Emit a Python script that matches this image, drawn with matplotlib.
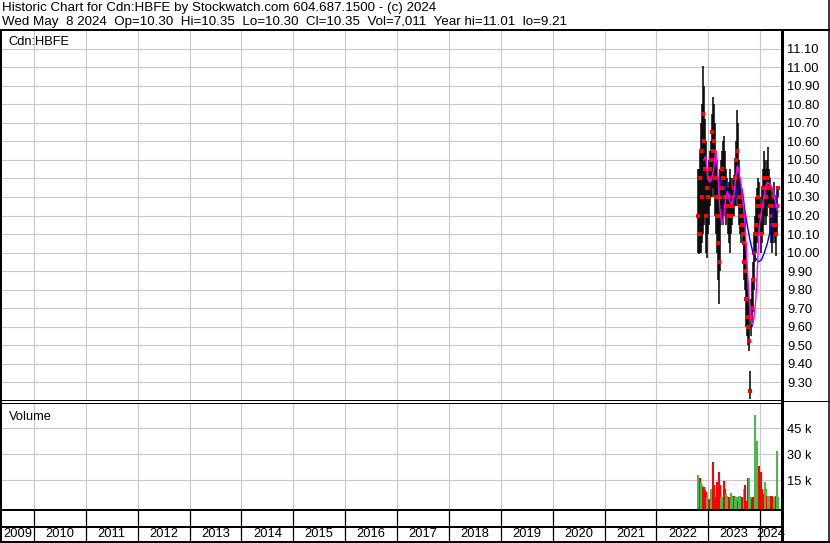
import matplotlib
matplotlib.use("Agg")
import matplotlib.pyplot as plt
from matplotlib.lines import Line2D
import pandas as pd
from datetime import datetime

plt.rcParams['font.family'] = ['Liberation Sans', 'DejaVu Sans']

W, H = 830, 543

# weekly data, Oct 2022 - May 2024
weeks = pd.date_range("2022-10-19", periods=82, freq="7D")

highs = [10.45, 10.45, 10.55, 10.70, 10.80, 11.01, 10.90, 10.72, 10.60, 10.45,
         10.40, 10.50, 10.55, 10.60, 10.75, 10.84, 10.80, 10.70, 10.55, 10.50,
         10.40, 10.30, 10.45, 10.50, 10.55, 10.60, 10.63, 10.55, 10.45, 10.40,
         10.35, 10.38, 10.45, 10.40, 10.35, 10.40, 10.42, 10.50, 10.60, 10.77,
         10.70, 10.50, 10.40, 10.35, 10.30, 10.25, 10.20, 10.25, 10.20, 10.05,
         9.90, 9.80, 9.75, 9.36, 9.75, 9.85, 9.95, 10.10, 10.20, 10.30,
         10.35, 10.40, 10.38, 10.30, 10.25, 10.35, 10.45, 10.55, 10.50, 10.45,
         10.50, 10.57, 10.45, 10.40, 10.35, 10.30, 10.35, 10.38, 10.30, 10.28,
         10.35, 10.35]
lows = [10.00, 9.99, 10.00, 10.00, 10.05, 10.10, 10.15, 10.20, 10.00, 9.97,
        10.10, 10.15, 10.25, 10.30, 10.30, 10.35, 10.30, 10.20, 10.10, 10.00,
        9.85, 9.72, 9.90, 10.15, 10.20, 10.15, 10.20, 10.20, 10.15, 10.20,
        10.10, 10.05, 10.00, 10.10, 10.15, 10.20, 10.20, 10.25, 10.25, 10.30,
        10.25, 10.15, 10.10, 10.05, 10.10, 10.05, 9.95, 9.85, 9.80, 9.60,
        9.55, 9.50, 9.47, 9.21, 9.55, 9.60, 9.68, 9.80, 9.95, 10.00,
        10.05, 10.10, 10.15, 10.10, 10.00, 10.05, 10.10, 10.15, 10.20, 10.15,
        10.20, 10.25, 10.25, 10.10, 10.05, 10.00, 10.05, 10.10, 10.05, 9.98,
        10.10, 10.30]
closes = [10.20, 10.10, 10.40, 10.55, 10.30, 10.75, 10.60, 10.45, 10.20, 10.35,
          10.30, 10.40, 10.45, 10.50, 10.65, 10.55, 10.60, 10.40, 10.30, 10.20,
          10.05, 9.95, 10.30, 10.35, 10.45, 10.40, 10.35, 10.30, 10.25, 10.30,
          10.20, 10.25, 10.30, 10.20, 10.25, 10.30, 10.35, 10.40, 10.50, 10.55,
          10.45, 10.30, 10.25, 10.20, 10.15, 10.10, 10.05, 9.95, 9.90, 9.75,
          9.65, 9.60, 9.52, 9.25, 9.65, 9.70, 9.85, 10.00, 10.10, 10.15,
          10.25, 10.30, 10.25, 10.20, 10.10, 10.25, 10.35, 10.40, 10.35, 10.30,
          10.40, 10.35, 10.35, 10.25, 10.20, 10.15, 10.25, 10.30, 10.15, 10.10,
          10.25, 10.35]
volume_k = [17.9, 15, 16, 14, 12, 11, 11, 9, 8.3, 5.4,
            4, 3.5, 4, 9.8, 6, 25.6, 12, 5, 4, 14,
            10, 19.8, 12, 5, 5, 4, 14.6, 10, 7, 6,
            5, 5, 4, 7.5, 6, 5, 6, 5, 4, 5,
            2.8, 6, 6, 5, 5, 4, 10, 9, 12, 3,
            3, 16, 16, 5, 5, 4, 5, 5, 52.5, 30,
            37.5, 22, 23, 18, 19.8, 10, 7, 6, 14, 10,
            6, 6, 6, 5, 6, 6, 5, 5, 5, 6,
            32, 5]
# g = up day, r = down day, x = unchanged
vol_dir = ("ggrggrrrrg" "grrggrrrrr" "rrrgggrrgg" "grrgggrggg" "rgggrrxgrr"
           "rrgggrrrgg" "ggrrrrrrgg" "rgggrrrggr" "gg")

# moving averages (week index, value)
ma_fast_wk = [6, 8, 10, 12, 14, 16, 18, 20, 22, 24, 26, 28, 30, 32, 34, 36, 38, 40,
              42, 44, 46, 48, 49, 50, 52, 54, 55, 56, 58, 59, 60, 62, 64, 66,
              68, 70, 72, 74, 76, 78, 80, 81]
ma_fast = [10.50, 10.52, 10.40, 10.38, 10.40, 10.45, 10.55, 10.45, 10.25, 10.15,
           10.18, 10.30, 10.33, 10.28, 10.26, 10.30, 10.40, 10.47, 10.42, 10.35,
           10.25, 10.10, 10.00, 9.90, 9.72, 9.62, 9.61, 9.63, 9.72, 9.81,
           9.92, 10.15, 10.22, 10.28, 10.35, 10.38, 10.37, 10.36, 10.33, 10.28,
           10.23, 10.22]
ma_slow_wk = [20, 23, 26, 29, 32, 35, 38, 41, 43, 45, 47, 49, 52, 55, 58, 61, 64,
              67, 70, 73, 76, 79, 81]
ma_slow = [10.40, 10.38, 10.37, 10.32, 10.30, 10.28, 10.30, 10.35, 10.37, 10.33,
           10.24, 10.17, 10.08, 10.01, 9.97, 9.95, 9.96, 10.00, 10.05, 10.12,
           10.23, 10.30, 10.32]

price_ticks = [9.3, 9.4, 9.5, 9.6, 9.7, 9.8, 9.9, 10.0, 10.1, 10.2, 10.3, 10.4,
               10.5, 10.6, 10.7, 10.8, 10.9, 11.0, 11.1]
vol_ticks = [15000, 30000, 45000]
vol_tick_labels = ["15 k", "30 k", "45 k"]
years = list(range(2009, 2025))

header1 = "Historic Chart for Cdn:HBFE by Stockwatch.com 604.687.1500 - (c) 2024"
header2 = ("Wed May  8 2024  Op=10.30  Hi=10.35  Lo=10.30  Cl=10.35  "
           "Vol=7,011  Year hi=11.01  lo=9.21")

x_start = datetime(2009, 5, 14)
x_end = datetime(2024, 5, 27)
grid_c = "#c8c8c8"
green = "#4cb84c"
fs = 9.3


def px_axes(fig, x0, y0, x1, y1):
    ax = fig.add_axes([x0 / W, 1 - y1 / H, (x1 - x0) / W, (y1 - y0) / H])
    ax.set_xlim(x_start, x_end)
    for s in ax.spines.values():
        s.set_visible(False)
    ax.tick_params(axis='x', which='both', length=0, labelbottom=False)
    return ax


def hline(fig, y, x0, x1, lw):
    fig.add_artist(Line2D([x0 / W, x1 / W], [1 - y / H, 1 - y / H],
                          transform=fig.transFigure, color="black", lw=lw * 0.72))


def vline(fig, x, y0, y1, lw):
    fig.add_artist(Line2D([x / W, x / W], [1 - y0 / H, 1 - y1 / H],
                          transform=fig.transFigure, color="black", lw=lw * 0.72))


fig = plt.figure(figsize=(W / 100, H / 100), dpi=100)
fig.patch.set_facecolor("white")

year_lines = [datetime(y, 1, 1) for y in years[1:]]

# price panel
ax = px_axes(fig, 1, 31, 781, 400)
ax.set_ylim(9.203, 11.197)
for d in year_lines:
    ax.axvline(d, color=grid_c, lw=0.8, zorder=0)
for p in price_ticks:
    ax.axhline(p, color=grid_c, lw=0.8, zorder=0)
ax.vlines(weeks, lows, highs, color="black", lw=1.1, zorder=2)
ax.plot(weeks, closes, "s", color="red", ms=2.2, mew=0, zorder=3)
ax.plot(weeks[ma_slow_wk], ma_slow, color="#0000ff", lw=1.0, zorder=4)
ax.plot(weeks[ma_fast_wk], ma_fast, color="#ff00ff", lw=1.0, zorder=4)
ax.yaxis.tick_right()
ax.set_yticks(price_ticks)
ax.set_yticklabels([f"{p:.2f}" for p in price_ticks], fontsize=fs)
ax.tick_params(axis='y', length=0, pad=4.5)
ax.text(0.01, 0.97, "Cdn:HBFE", transform=ax.transAxes, fontsize=fs,
        va="center", ha="left")

# volume panel
vol_floor = -1800
axv = px_axes(fig, 1, 403, 781, 509)
axv.set_ylim(vol_floor, 59700)
for d in year_lines:
    axv.axvline(d, color=grid_c, lw=0.8, zorder=0)
for v in vol_ticks:
    axv.axhline(v, color=grid_c, lw=0.8, zorder=0)
colors = {"g": green, "r": "#ff0000", "x": "#999999"}
vols = [v * 1000 - vol_floor for v in volume_k]
axv.bar(weeks, vols, bottom=vol_floor, width=14,
        color=[colors[c] for c in vol_dir], lw=0, zorder=2)
axv.yaxis.tick_right()
axv.set_yticks(vol_ticks)
axv.set_yticklabels(vol_tick_labels, fontsize=fs)
axv.tick_params(axis='y', length=0, pad=4.5)
axv.text(0.01, 0.87, "Volume", transform=axv.transAxes, fontsize=fs,
         va="center", ha="left")

# year boxes and labels
axb = px_axes(fig, 1, 509, 781, 541)
axb.set_ylim(0, 1)
axb.set_yticks([])
for d in year_lines:
    axb.axvline(d, color="black", lw=0.9)
bounds = [x_start] + year_lines + [x_end]
for y, a, b in zip(years, bounds[:-1], bounds[1:]):
    axb.text(a + (b - a) / 2, 0.22, str(y), fontsize=fs, ha="center", va="center")

# frame lines
hline(fig, 30, 0, 830, 2)
hline(fig, 400, 0, 782, 1)
hline(fig, 402.5, 0, 782, 1)
hline(fig, 401, 782, 829, 1)
hline(fig, 509.5, 0, 782, 2)
hline(fig, 526.5, 0, 782, 2)
hline(fig, 541.5, 0, 830, 2)
vline(fig, 1, 30, 542, 2)
vline(fig, 782, 30, 542, 3)
vline(fig, 828.5, 0, 542, 1.5)

fig.text(2 / W, 1 - 8 / H, header1, fontsize=9.6, va="center", ha="left")
fig.text(2 / W, 1 - 22 / H, header2, fontsize=9.6, va="center", ha="left")

fig.savefig("out.png", dpi=100)
